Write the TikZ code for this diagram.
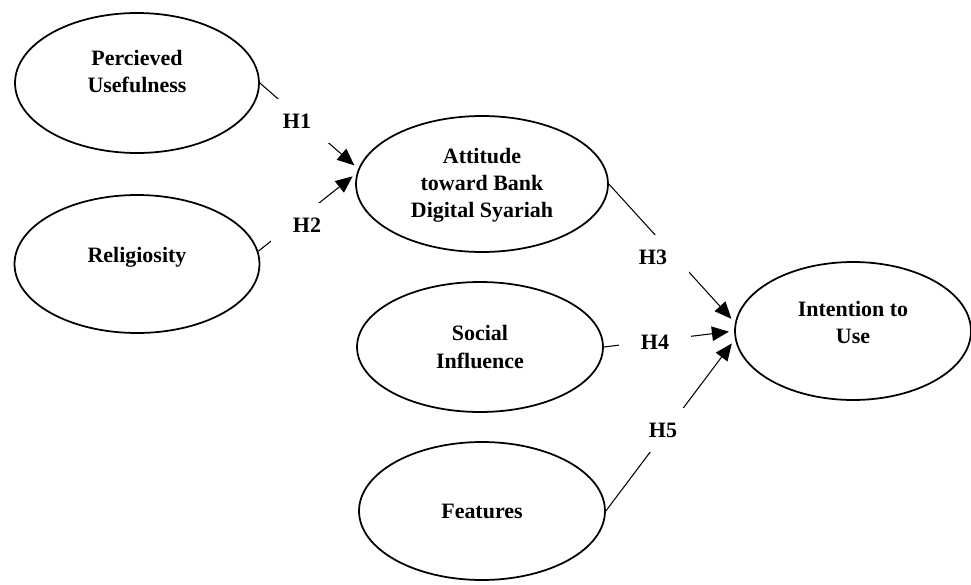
\documentclass[tikz,border=0pt]{standalone}
\usepackage{fontspec}
\setmainfont{Liberation Serif}
\usetikzlibrary{arrows.meta,shapes.geometric}

\begin{document}
\begin{tikzpicture}[
  x=0.02cm, y=-0.02cm,
  construct/.style={draw, ellipse, line width=1pt, align=center, inner sep=0pt,
    font=\fontsize{12.5}{15.4}\selectfont\bfseries},
  hyp/.style={fill=white, minimum width=1.46cm, minimum height=0.88cm, inner sep=0pt,
    font=\fontsize{12.5}{14}\selectfont\bfseries},
  arrow/.style={-{Triangle[length=0.34cm, width=0.29cm]}, line width=0.6pt, shorten >=3pt}
]
\useasboundingbox (0,0) rectangle (971,585);

% constructs
\node[construct, minimum width=4.88cm, minimum height=2.8cm, text depth=0.48cm] (pu) at (137,83) {Percieved\\Usefulness};
\node[construct, minimum width=4.9cm, minimum height=2.76cm, text depth=0.37cm] (rel) at (137,264) {Religiosity};
\node[construct, minimum width=5.04cm, minimum height=2.72cm, text depth=0.05cm] (att) at (482,184) {Attitude\\toward Bank\\Digital Syariah};
\node[construct, minimum width=4.92cm, minimum height=2.6cm] (si) at (480,347) {Social\\Influence};
\node[construct, minimum width=4.92cm, minimum height=2.76cm] (feat) at (482,511) {Features};
\node[construct, minimum width=4.72cm, minimum height=2.76cm, text depth=0.36cm] (int) at (853,331) {Intention to\\Use};

% paths
\draw[arrow] (pu.east) -- (att.173);
\draw[arrow] (rel.6) -- (att.175);
\draw[arrow] (att.east) -- (int.176);
\draw[arrow] (si.east) -- (int.180);
\draw[arrow] (feat.east) -- (int.184);

% hypotheses
\node[hyp] (h1) at (297,121) {H1};
\node[hyp] (h2) at (307,225) {H2};
\node[hyp] (h3) at (653,257) {H3};
\node[hyp] (h4) at (655,342) {H4};
\node[hyp] (h5) at (663,430) {H5};
\end{tikzpicture}
\end{document}
